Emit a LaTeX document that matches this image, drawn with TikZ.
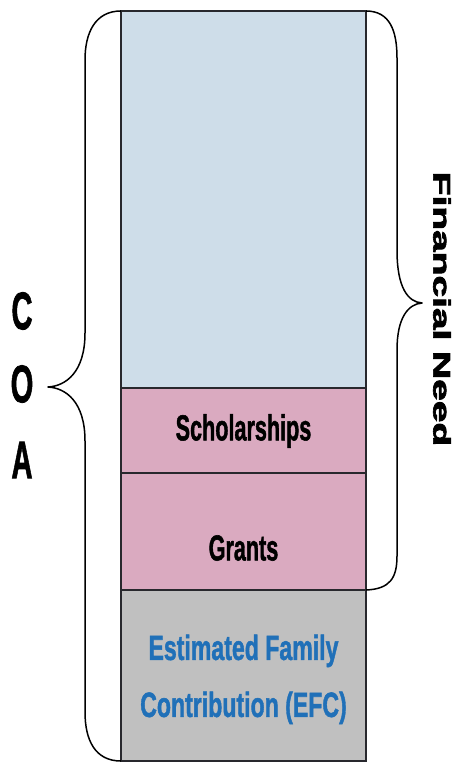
\documentclass[tikz,border=0pt]{standalone}
\usepackage{fontspec}
\usepackage{graphicx}
\setmainfont{Liberation Sans}[BoldFeatures={FakeBold=1.6}]
\newfontfamily\heavyfont{Liberation Sans}[BoldFeatures={FakeBold=2.6}]
\begin{document}
\definecolor{needblue}{RGB}{206,221,233}
\definecolor{aidpink}{RGB}{218,170,192}
\definecolor{efcgray}{RGB}{192,192,192}
\definecolor{efctext}{RGB}{32,112,184}
\definecolor{edge}{RGB}{40,40,45}
\begin{tikzpicture}[x=1pt,y=-1pt,
  segment/.style={draw=edge,line width=1.8pt,rectangle,minimum width=245pt,
    inner sep=0pt,outer sep=0pt,anchor=north west},
  brace/.style={draw=black,line width=1.5pt,line join=round},
  lbl/.style={inner sep=0pt,font=\bfseries}]
\useasboundingbox (0,0) rectangle (454,762);
% stacked budget column
\node[segment,fill=needblue,minimum height=377pt] (need) at (121,11) {};
\node[segment,fill=aidpink,minimum height=85pt] (schol) at (121,388) {};
\node[segment,fill=aidpink,minimum height=117pt] (grants) at (121,473) {};
\node[segment,fill=efcgray,minimum height=171pt] (efc) at (121,590) {};
% segment labels
\node[lbl] (scholtxt) at (243.5,431) {\scalebox{0.6}[1]{\fontsize{36}{36}\selectfont\bfseries Scholarships}};
\node[lbl] (grantstxt) at (243.5,548) {\scalebox{0.6}[1]{\fontsize{36}{36}\selectfont\bfseries Grants}};
\node[lbl,text=efctext,align=center] (efctxt) at (243.5,677)
  {\scalebox{0.66}[1]{\fontsize{35}{57}\selectfont\bfseries\begin{tabular}{@{}c@{}}Estimated Family\\Contribution (EFC)\end{tabular}}};
% left brace: cost of attendance
\coordinate (coatip) at (48,387);
\draw[brace] (need.north west) .. controls (95,11) and (85,33) .. (85,60)
  -- (85,333) .. controls (85,372) and (66,386) .. (coatip)
  .. controls (66,388) and (85,402) .. (85,441)
  -- (85,712) .. controls (85,740) and (95,761) .. (efc.south west);
% right brace: financial need
\coordinate (needtip) at (422,303);
\draw[brace] (need.north east) .. controls (390,11) and (397,31) .. (397,58)
  -- (397,250) .. controls (397,288) and (408,302) .. (needtip)
  .. controls (408,304) and (397,318) .. (397,350)
  -- (397,556) .. controls (397,578) and (390,589) .. (grants.south east);
% brace labels
\node[lbl] (coac) at (22,311) {\scalebox{0.55}[1]{\fontsize{53}{53}\selectfont\bfseries C}};
\node[lbl] (coao) at (22,384) {\scalebox{0.55}[1]{\fontsize{53}{53}\selectfont\bfseries O}};
\node[lbl] (coaa) at (22,460) {\scalebox{0.55}[1]{\fontsize{53}{53}\selectfont\bfseries A}};
\node[lbl,rotate=-90] (needtxt) at (442,309) {\scalebox{1.62}[1]{\fontsize{24}{24}\selectfont\heavyfont\bfseries Financial Need}};
\end{tikzpicture}
\end{document}
